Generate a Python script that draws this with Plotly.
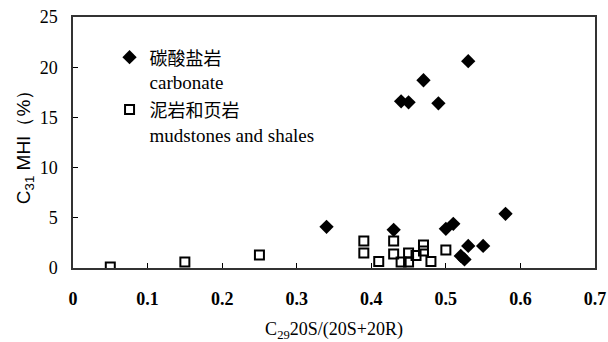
import plotly.graph_objects as go

carb_x = [0.34, 0.43, 0.44, 0.45, 0.47, 0.49, 0.50, 0.51, 0.52, 0.525, 0.53, 0.53, 0.55, 0.58]
carb_y = [4.1, 3.8, 16.6, 16.5, 18.7, 16.4, 3.9, 4.4, 1.2, 0.85, 20.6, 2.2, 2.2, 5.4]

mud_x = [0.05, 0.15, 0.25, 0.39, 0.39, 0.41, 0.43, 0.43, 0.44, 0.45, 0.45, 0.46, 0.47, 0.47, 0.48, 0.50]
mud_y = [0.1, 0.6, 1.3, 2.7, 1.5, 0.65, 2.7, 1.4, 0.6, 1.5, 0.6, 1.25, 2.3, 1.7, 0.65, 1.8]

x_ticks = [0, 0.1, 0.2, 0.3, 0.4, 0.5, 0.6, 0.7]
x_labels = ["0", "0.1", "0.2", "0.3", "0.4", "0.5", "0.6", "0.7"]
y_ticks = [0, 5, 10, 15, 20, 25]
y_labels = ["0", "5", "10", "15", "20", "25"]

serif = "Liberation Serif"

def styled(t, bold=False):
    inner = f"<b>{t}</b>" if bold else t
    return f"<span style='font-family:Liberation Serif'>{inner}</span>"

fig = go.Figure()
fig.add_trace(go.Scatter(
    x=carb_x, y=carb_y, mode="markers",
    name="<span style='font-family:Noto Sans CJK SC;font-size:18px'>碳酸盐岩</span><br>carbonate",
    marker=dict(symbol="diamond", size=11, color="black"),
))
fig.add_trace(go.Scatter(
    x=mud_x, y=mud_y, mode="markers",
    name="<span style='font-family:Noto Sans CJK SC;font-size:18px'>泥岩和页岩</span><br>mudstones and shales",
    marker=dict(symbol="square-open", size=9, color="black", line=dict(width=2, color="black")),
))

fig.update_layout(
    width=608, height=342,
    margin=dict(l=73, r=13, t=17, b=74),
    paper_bgcolor="white", plot_bgcolor="white",
    showlegend=True,
    legend=dict(
        x=0.07, y=0.915, xanchor="left", yanchor="top",
        bgcolor="rgba(0,0,0,0)", borderwidth=0,
        font=dict(family=serif, size=19, color="black"),
        valign="top", tracegroupgap=15, itemwidth=30,
    ),
    font=dict(family=serif, color="black"),
)
fig.update_xaxes(
    range=[0, 0.7], tickvals=x_ticks, ticktext=[styled(t, True) for t in x_labels],
    ticks="inside", ticklen=5, tickcolor="black",
    showline=True, linecolor="#333", linewidth=1.5, mirror=True,
    showgrid=False, zeroline=False, automargin=False,
    tickfont=dict(family=serif, size=18, color="black"),
    ticklabelstandoff=14,
    title=dict(text="C<sub>29</sub>20S/(20S+20R)", font=dict(family=serif, size=18, color="black"), standoff=14),
)
fig.update_yaxes(
    range=[0, 25], tickvals=y_ticks, ticktext=[styled(t) for t in y_labels],
    ticks="inside", ticklen=5, tickcolor="black",
    showline=True, linecolor="#333", linewidth=1.5, mirror=True,
    showgrid=False, zeroline=False, automargin=False,
    tickfont=dict(family=serif, size=18, color="black"),
    ticklabelstandoff=10,
    title=dict(text="C<sub>31</sub> MHI（%）", font=dict(family="Liberation Sans", size=19, color="black"), standoff=4),
)

fig.write_html("out.html")
